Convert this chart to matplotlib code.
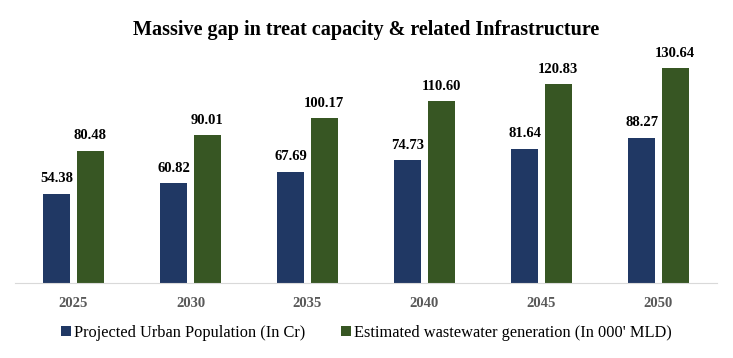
import numpy as np
import matplotlib.pyplot as plt

years = ["2025", "2030", "2035", "2040", "2045", "2050"]
population = [54.38, 60.82, 67.69, 74.73, 81.64, 88.27]
wastewater = [80.48, 90.01, 100.17, 110.60, 120.83, 130.64]

plt.rcParams["font.family"] = ["Liberation Serif", "DejaVu Serif"]

fig = plt.figure(figsize=(7.33, 3.58), dpi=100)
ax = fig.add_axes([0.0205, 0.2095, 0.9575, 0.68])

x = np.arange(len(years))
w = 0.23
pop_bars = ax.bar(x - 0.143, population, w, color="#203864",
                  label="Projected Urban Population (In Cr)")
ww_bars = ax.bar(x + 0.143, wastewater, w, color="#375623",
                 label="Estimated wastewater generation (In 000' MLD)")
ax.bar_label(pop_bars, labels=[f"{v:.2f}" for v in population], padding=6,
             fontsize=10.5, fontweight="bold")
ax.bar_label(ww_bars, labels=[f"{v:.2f}" for v in wastewater], padding=6,
             fontsize=10.5, fontweight="bold")

ax.set_xlim(-0.5, len(years) - 0.5)
ax.set_ylim(0, 148)
ax.set_xticks(x)
ax.set_xticklabels(years, fontsize=10.5, fontweight="bold", color="#595959")
ax.tick_params(axis="x", length=0, pad=10)
ax.set_yticks([])
for s in ["top", "right", "left"]:
    ax.spines[s].set_visible(False)
ax.spines["bottom"].set_color("#d9d9d9")

fig.suptitle("Massive gap in treat capacity & related Infrastructure",
             y=0.945, fontsize=14.5, fontweight="bold")
fig.legend(loc="center", bbox_to_anchor=(0.5, 0.07), ncol=2, frameon=False,
           fontsize=11.8, handlelength=0.6, handleheight=0.6,
           handletextpad=0.2, columnspacing=2.2)

fig.savefig("out.png", dpi=100)
